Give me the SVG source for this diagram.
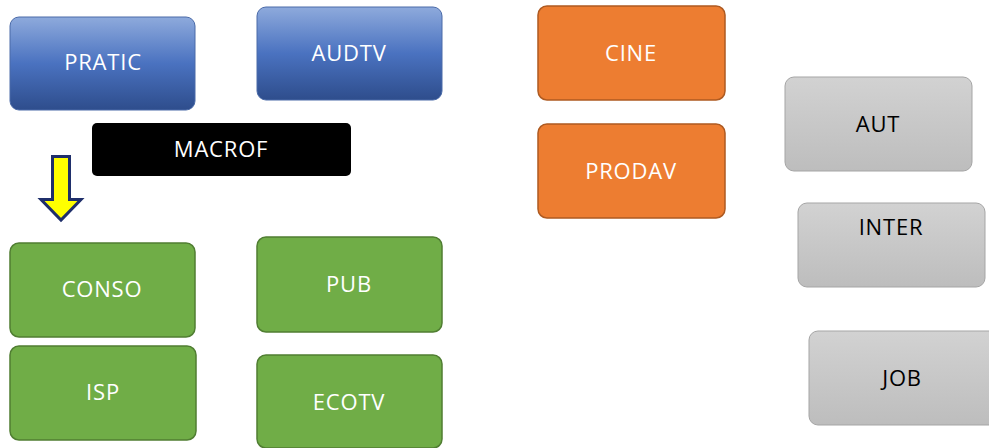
<svg xmlns="http://www.w3.org/2000/svg" width="989" height="448" viewBox="0 0 989 448">
<defs>
<linearGradient id="gBlue" x1="0" y1="0" x2="0" y2="1">
<stop offset="0" stop-color="#8eaadc"/>
<stop offset="0.5" stop-color="#4a72c0"/>
<stop offset="1" stop-color="#2e4d8c"/>
</linearGradient>
<linearGradient id="gGray" x1="0" y1="0" x2="0" y2="1">
<stop offset="0" stop-color="#d2d2d2"/>
<stop offset="1" stop-color="#bdbdbd"/>
</linearGradient>
<style>
.t{font-family:"Open Sans","Liberation Sans",sans-serif;font-size:22px;letter-spacing:0.8px;text-anchor:middle;fill:#fff}
.d{fill:#000}
.blue{fill:url(#gBlue);stroke:#4a6aa8;stroke-width:1}
.green{fill:#70ad47;stroke:#507e32;stroke-width:1.5}
.orange{fill:#ed7d31;stroke:#ae5a21;stroke-width:1.5}
.gray{fill:url(#gGray);stroke:#a5a5a5;stroke-width:1}
</style>
</defs>
<g id="PRATIC"><rect class="blue" x="10" y="17" width="185" height="93" rx="9"/><text class="t" x="103" y="70">PRATIC</text></g>
<g id="AUDTV"><rect class="blue" x="257" y="7" width="185" height="93" rx="9"/><text class="t" x="349" y="61">AUDTV</text></g>
<g id="MACROF"><rect x="92" y="123" width="259" height="53" rx="5" fill="#000"/><text class="t" x="221" y="157">MACROF</text></g>
<g id="connectors">
<path d="M52.5 156.5 H69.5 V199.5 H81 L61 220 L41 199.5 H52.5 Z" fill="#ffff00" stroke="#1f2f6b" stroke-width="3" stroke-linejoin="miter"/>
</g>
<g id="CONSO"><rect class="green" x="10" y="243" width="185" height="94" rx="9"/><text class="t" x="102" y="297">CONSO</text></g>
<g id="ISP"><rect class="green" x="10" y="346" width="186" height="94" rx="9"/><text class="t" x="103" y="400">ISP</text></g>
<g id="PUB"><rect class="green" x="257" y="237" width="185" height="95" rx="9"/><text class="t" x="349" y="292">PUB</text></g>
<g id="ECOTV"><rect class="green" x="257" y="355" width="185" height="93" rx="9"/><text class="t" x="349" y="410">ECOTV</text></g>
<g id="CINE"><rect class="orange" x="538" y="6" width="187" height="94" rx="9"/><text class="t" x="631" y="61">CINE</text></g>
<g id="PRODAV"><rect class="orange" x="538" y="124" width="187" height="94" rx="9"/><text class="t" x="631" y="179">PRODAV</text></g>
<g id="AUT"><rect class="gray" x="785" y="77" width="187" height="94" rx="9"/><text class="t d" x="878" y="132">AUT</text></g>
<g id="INTER"><rect class="gray" x="798" y="203" width="187" height="84" rx="9"/><text class="t d" x="891" y="235">INTER</text></g>
<g id="JOB"><rect class="gray" x="809" y="331" width="190" height="94" rx="9"/><text class="t d" x="902" y="386">JOB</text></g>
</svg>
